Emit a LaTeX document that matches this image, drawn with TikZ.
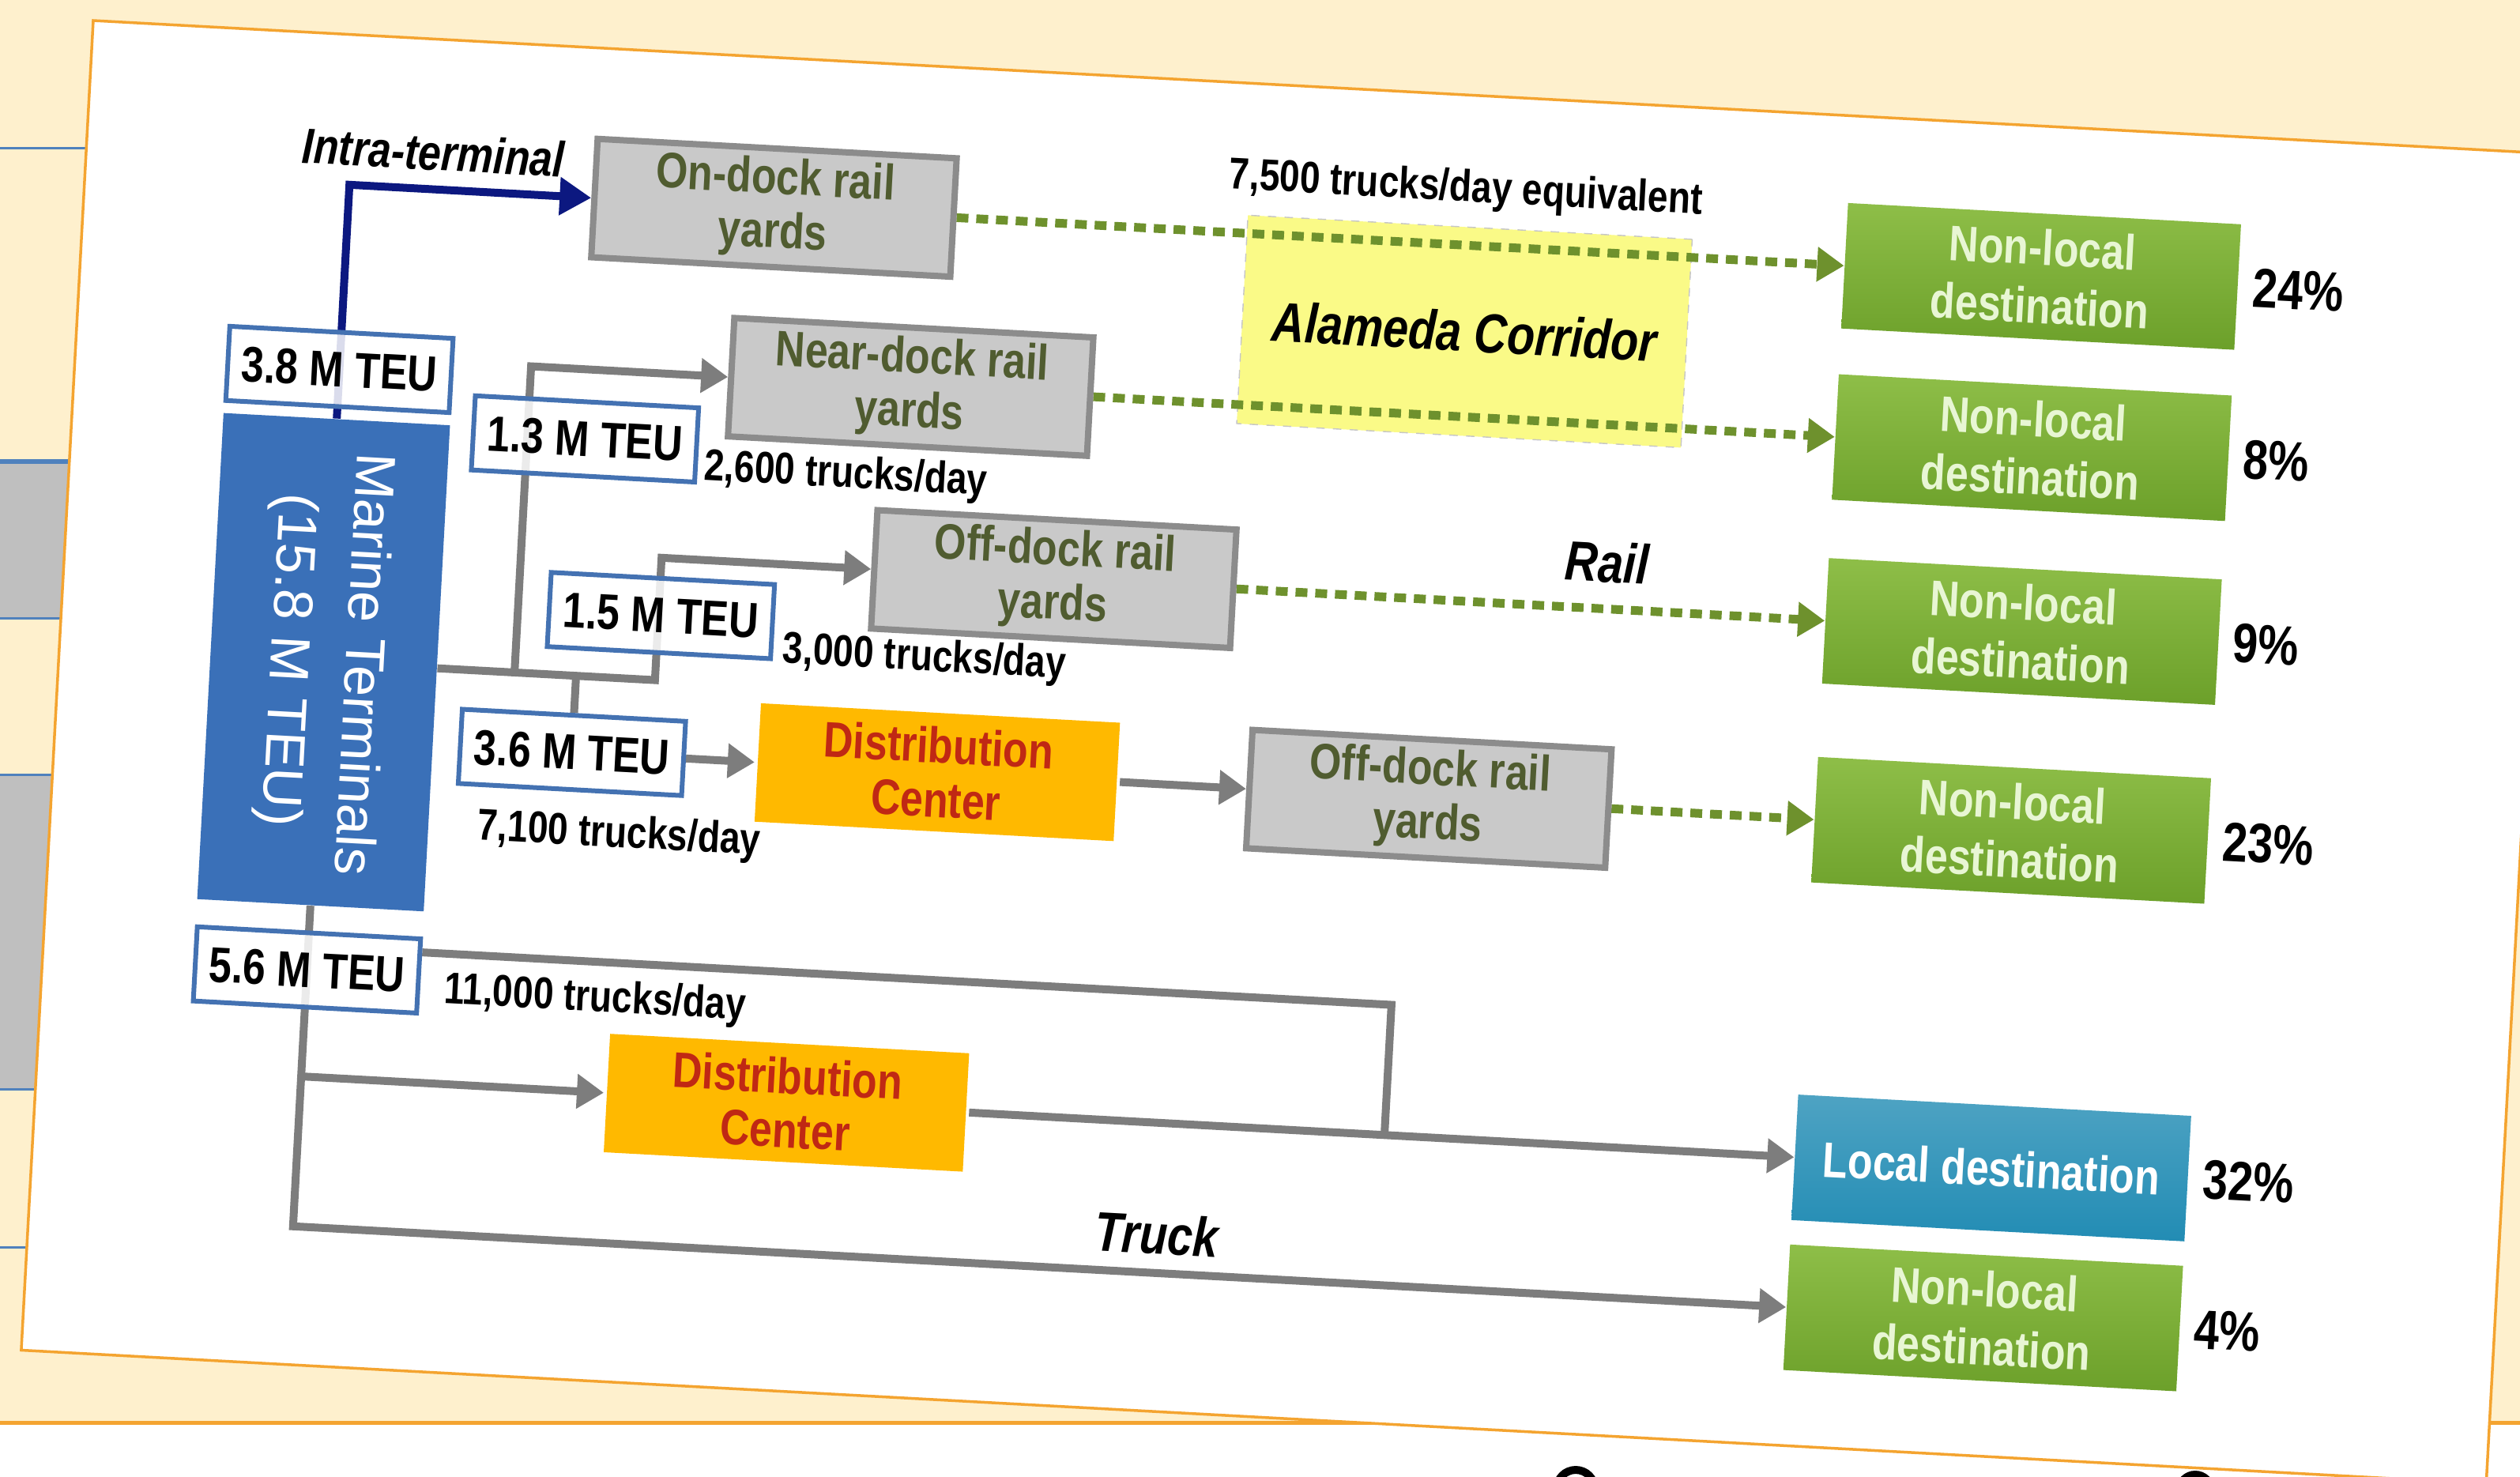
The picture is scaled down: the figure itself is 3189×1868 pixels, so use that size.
\documentclass[tikz,border=0pt]{standalone}
\usepackage{fontspec}
\setmainfont{Liberation Sans}[FakeStretch=0.82]
\newfontfamily\widesans{Liberation Sans}
\usepackage{graphicx}
\usepackage{tikz}
\usetikzlibrary{arrows.meta}
\usetikzlibrary{positioning}

\definecolor{slidecream}{RGB}{254,240,205}
\definecolor{slideorange}{RGB}{244,164,48}
\definecolor{slideblue}{RGB}{79,129,189}
\definecolor{slidegray}{RGB}{191,191,191}
\definecolor{teublue}{RGB}{68,114,178}
\definecolor{marineblue}{RGB}{58,112,184}
\definecolor{yardgray}{RGB}{201,201,201}
\definecolor{yardedge}{RGB}{140,140,140}
\definecolor{yardtext}{RGB}{80,92,48}
\definecolor{dcorange}{RGB}{255,185,0}
\definecolor{dcred}{RGB}{192,40,20}
\definecolor{destgreen}{RGB}{108,160,42}
\definecolor{destlight}{RGB}{142,190,72}
\definecolor{desttext}{RGB}{232,246,212}
\definecolor{localblue}{RGB}{34,140,180}
\definecolor{alamedayellow}{RGB}{250,250,135}
\definecolor{roadgray}{RGB}{125,125,125}
\definecolor{railgreen}{RGB}{110,145,45}
\definecolor{intranavy}{RGB}{12,24,128}

\pgfdeclarelayer{slide}
\pgfdeclarelayer{links}
\pgfsetlayers{slide,links,main}

\tikzset{
teu/.style={ % white boxes with the volumes
  draw=teublue, line width=0.6mm, fill=white, fill opacity=0.85, text opacity=1,
  minimum width=28.3mm, minimum height=9.4mm, inner sep=0pt,
  font=\fontsize{18}{20}\selectfont\bfseries},
marine/.style={fill=marineblue, text=white,
  minimum width=28.7mm, minimum height=61.6mm, inner sep=0pt,
  font=\widesans\fontsize{20}{27}\selectfont},
yard/.style={ % grey rail yards
  draw=yardedge, line width=0.8mm, fill=yardgray, text=yardtext, align=center,
  minimum width=45.5mm, minimum height=15mm, inner sep=0pt,
  font=\fontsize{18}{19.5}\selectfont\bfseries},
dcbox/.style={yard, draw=none, fill=dcorange, text=dcred},
corridorbox/.style={fill=alamedayellow, draw=gray!45, dashed, thin,
  minimum width=56.3mm, minimum height=26.4mm,
  font=\fontsize{20}{22}\selectfont\bfseries\itshape},
dest/.style={ % destinations on the right
  top color=destlight, bottom color=destgreen, text=desttext, align=center,
  minimum width=49.8mm, minimum height=15.9mm, inner sep=0pt,
  font=\fontsize{18}{21}\selectfont\bfseries},
localdest/.style={dest, top color=localblue!80!white, bottom color=localblue, text=white},
pct/.style={font=\fontsize{20}{22}\selectfont\bfseries},
volume/.style={font=\fontsize{16}{18}\selectfont\bfseries},
mode/.style={font=\fontsize{20}{22}\selectfont\bfseries\itshape},
road/.style={draw=roadgray, line width=1mm, -{Triangle[length=3.4mm,width=4.2mm]}},
link/.style={draw=roadgray, line width=1mm},
railflow/.style={draw=railgreen, line width=1.1mm, dash pattern=on 1.5mm off 1mm,
  -{Triangle[length=3.4mm,width=4.2mm]}},
intra/.style={draw=intranavy, line width=1mm, -{Triangle[length=4mm,width=4.6mm]}}
}

\begin{document}
\begin{tikzpicture}[x=0.1mm, y=-0.1mm]
\useasboundingbox (0,0) rectangle (3189,1868);

% the slide behind the picture
\begin{pgfonlayer}{slide}
\fill[slidecream] (0,0) rectangle (3189,1800);
\fill[white] (0,1800) rectangle (3189,1868);
\fill[slidegray] (0,584) rectangle (300,782);
\fill[slidegray] (0,980) rectangle (300,1378);
\foreach \y in {187,782,980,1378,1578}
  \draw[slideblue, line width=0.3mm] (0,\y) -- (300,\y);
\draw[slideblue, line width=0.6mm] (0,584) -- (300,584);
\draw[slideorange, line width=0.5mm] (0,1800) -- (3189,1800);
\draw[line width=1mm] (1994,1884) circle[radius=24];
\draw[line width=1mm] (2778,1886) circle[radius=20];
\end{pgfonlayer}

\begin{scope}[shift={(118,26)}, rotate=-3.1, transform shape]
\begin{pgfonlayer}{slide}
\draw[slideorange, fill=white, line width=0.35mm] (0,0) rectangle (3124,1685);
\end{pgfonlayer}

% terminals and volumes
\node[teu] (teu38) at (335,424) {3.8 M TEU};
\node[marine] (marine) at (335,795) {\rotatebox{-90}{\begin{tabular}{@{}c@{}}Marine Terminals\\(15.8 M TEU)\end{tabular}}};
\node[teu] (teu56) at (335,1185) {5.6 M TEU};
\node[teu] (teu13) at (650,495) {1.3 M TEU};
\node[teu] (teu15) at (758,713) {1.5 M TEU};
\node[teu] (teu36) at (655,892) {3.6 M TEU};

% yards and centers
\node[yard] (ondock) at (873,190) {On-dock rail\\yards};
\node[yard] (neardock) at (1058,407) {Near-dock rail\\yards};
\node[yard] (offdockA) at (1252,640) {Off-dock rail\\yards};
\node[dcbox] (dcA) at (1118,892) {Distribution\\Center};
\node[yard] (offdockB) at (1741,892) {Off-dock rail\\yards};
\node[dcbox] (dcB) at (950,1320) {Distribution\\Center};

% destinations
\node[dest] (destA) at (2479,190) {Non-local\\destination};
\node[dest] (destB) at (2479,407) {Non-local\\destination};
\node[dest] (destC) at (2479,640) {Non-local\\destination};
\node[dest] (destD) at (2479,892) {Non-local\\destination};
\node[localdest] (localdest) at (2477,1320) {Local destination};
\node[dest] (destF) at (2477,1510) {Non-local\\destination};
\node[pct, right=0.6mm of destA] (pctA) {24\%};
\node[pct, right=0.6mm of destB] (pctB) {8\%};
\node[pct, right=0.6mm of destC] (pctC) {9\%};
\node[pct, right=0.6mm of destD] (pctD) {23\%};
\node[pct, right=0.6mm of localdest] (pctE) {32\%};
\node[pct, right=0.6mm of destF] (pctF) {4\%};

% labels
\node[volume] (t2600) at (982,524) {2,600 trucks/day};
\node[volume] (t3000) at (1094,750) {3,000 trucks/day};
\node[volume] (t7100) at (720,994) {7,100 trucks/day};
\node[volume] (t11000) at (701,1203) {11,000 trucks/day};
\node[volume] (t7500) at (1746,120) {7,500 trucks/day equivalent};
\node[mode, font=\fontsize{18}{20}\selectfont\bfseries\itshape] (intralabel) at (439,143) {Intra-terminal};
\node[mode] (raillabel) at (1950,581) {Rail};
\node[mode] (trucklabel) at (1427,1461) {Truck};

\begin{pgfonlayer}{links}
\node[corridorbox] (alameda) at (1754,299) {Alameda Corridor};
\coordinate (fork1) at (577,795);
\coordinate (fork2) at (755,795);
\coordinate (kink) at (1708,1155);
\draw[intra] (marine.north) |- (ondock.west);
\draw[road] (marine.east) -- (fork2) |- (offdockA.west);
\draw[road] (fork1) |- (neardock.west);
\draw[link] (fork1 -| teu36.north) -- (teu36.north);
\draw[road] (teu36.east) -- (dcA.west);
\draw[road] (dcA.east) -- (offdockB.west);
\draw[railflow] (ondock.east) -- (destA.west);
\draw[railflow] (neardock.east) -- (destB.west);
\draw[railflow] (offdockA.east) -- (destC.west);
\draw[railflow] (offdockB.east) -- (destD.west);
\draw[road] (marine.south) |- (destF.west);
\draw[road] (marine.south |- dcB.west) -- (dcB.west);
\draw[link] (teu56.east |- kink) -| (kink |- localdest.west);
\draw[road] (dcB.east) -- (localdest.west);
\end{pgfonlayer}
\end{scope}
\end{tikzpicture}
\end{document}
